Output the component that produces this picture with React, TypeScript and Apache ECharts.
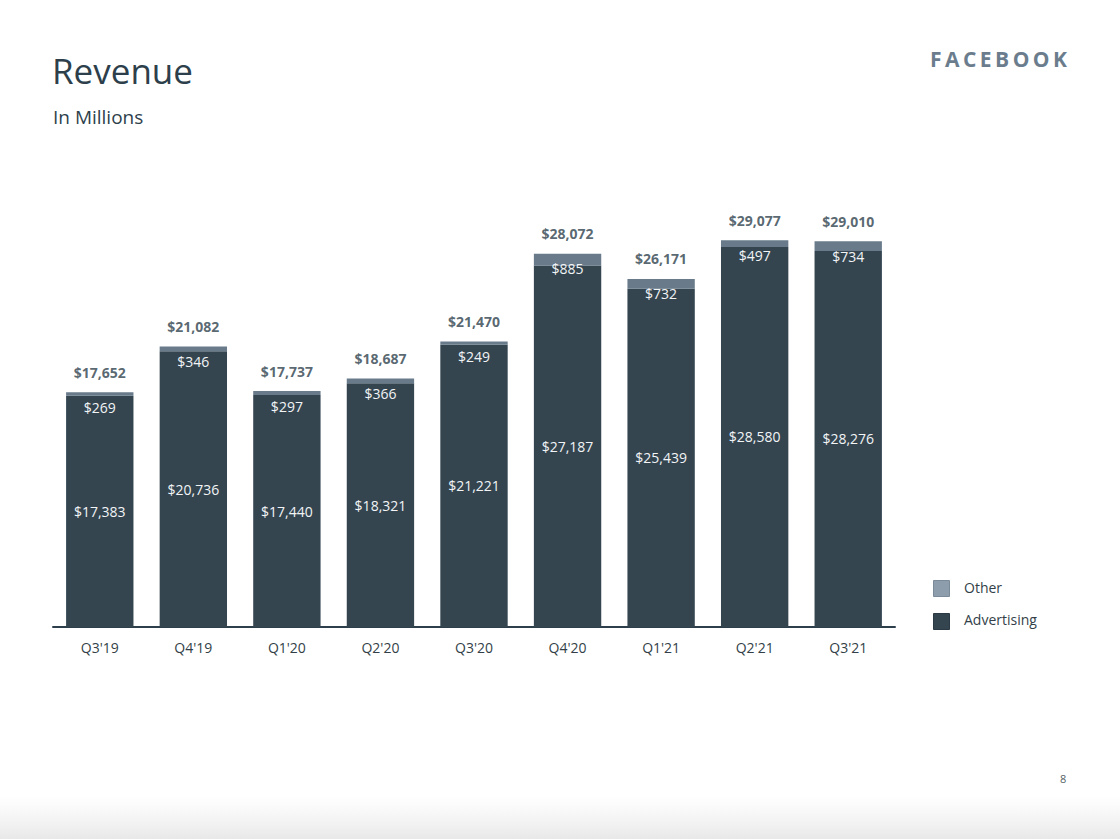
import React, { useEffect, useRef } from "react";
import * as echarts from "echarts";

const categories = ["Q3'19", "Q4'19", "Q1'20", "Q2'20", "Q3'20", "Q4'20", "Q1'21", "Q2'21", "Q3'21"];
const advertising = [17383, 20736, 17440, 18321, 21221, 27187, 25439, 28580, 28276];
const other = [269, 346, 297, 366, 249, 885, 732, 497, 734];
const totals = [17652, 21082, 17737, 18687, 21470, 28072, 26171, 29077, 29010];

const FONT = "'Open Sans', 'Noto Sans', sans-serif";
const DARK = "#344550";
const OTHER = "#697b8b";
const TEXT = "#2e3f4c";

const fmt = (v: number) => "$" + v.toLocaleString("en-US");

export default function App() {
  const ref = useRef<HTMLDivElement>(null);
  useEffect(() => {
    if (!ref.current) return;
    const chart = echarts.init(ref.current, null, { renderer: "svg" });
    chart.setOption({
      animation: false,
      backgroundColor: "#ffffff",
      textStyle: { fontFamily: FONT },
      grid: { left: 53, right: 225, top: 228, height: 399, containLabel: false },
      xAxis: {
        type: "category",
        data: categories,
        axisLine: { lineStyle: { color: TEXT, width: 2 } },
        axisTick: { show: false },
        axisLabel: { color: "#333f48", fontSize: 14, margin: 13, fontFamily: FONT },
      },
      yAxis: {
        type: "value",
        min: 0,
        max: 30000,
        show: false,
        splitLine: { show: false },
      },
      legend: { show: false },
      series: [
        {
          name: "Advertising",
          type: "bar",
          stack: "rev",
          data: advertising,
          barWidth: "72%",
          itemStyle: { color: DARK },
          label: {
            show: true,
            position: "inside",
            color: "#f2f4f6",
            fontSize: 14,
            fontFamily: FONT,
            formatter: (p: any) => fmt(p.value),
          },
        },
        {
          name: "Other",
          type: "bar",
          stack: "rev",
          data: other,
          barWidth: "72%",
          itemStyle: { color: OTHER },
          label: {
            show: true,
            position: "insideTop",
            distance: 8,
            color: "#f2f4f6",
            fontSize: 14,
            fontFamily: FONT,
            formatter: (p: any) => fmt(p.value),
          },
        },
        {
          name: "Total",
          type: "scatter",
          data: totals,
          symbolSize: 0,
          silent: true,
          label: {
            show: true,
            position: "top",
            distance: 13,
            color: TEXT,
            fontSize: 14,
            fontWeight: "bold",
            fontFamily: FONT,
            formatter: (p: any) => fmt(p.value),
          },
        },
      ],
      graphic: [
        {
          type: "text",
          left: 52,
          top: 53,
          style: { text: "Revenue", fontSize: 35, fill: TEXT, fontFamily: FONT },
        },
        {
          type: "text",
          left: 53,
          top: 107,
          style: { text: "In Millions", fontSize: 19, fill: TEXT, fontFamily: FONT },
        },
        {
          type: "text",
          right: 53,
          top: 48,
          style: {
            text: "F\u2009A\u2009C\u2009E\u2009B\u2009O\u2009O\u2009K",
            fontSize: 21,
            fontWeight: "bold",
            fill: "#6b7d8d",
            fontFamily: FONT,
          },
        },
        {
          type: "rect",
          left: 933,
          top: 580,
          shape: { width: 16, height: 16 },
          style: { fill: "#8d9dab", stroke: "#7a8a98", lineWidth: 1 },
        },
        {
          type: "text",
          left: 964,
          top: 580,
          style: { text: "Other", fontSize: 14, fill: "#333f48", fontFamily: FONT },
        },
        {
          type: "rect",
          left: 933,
          top: 613,
          shape: { width: 16, height: 16 },
          style: { fill: DARK, stroke: "#2a3944", lineWidth: 1 },
        },
        {
          type: "text",
          left: 964,
          top: 612,
          style: { text: "Advertising", fontSize: 14, fill: "#333f48", fontFamily: FONT },
        },
        {
          type: "text",
          left: 1060,
          top: 773,
          style: { text: "8", fontSize: 11, fill: "#555f66", fontFamily: FONT },
        },
        {
          type: "rect",
          left: 0,
          top: 795,
          shape: { width: 1120, height: 44 },
          style: {
            fill: new echarts.graphic.LinearGradient(0, 0, 0, 1, [
              { offset: 0, color: "rgba(240,240,240,0)" },
              { offset: 1, color: "rgba(232,232,232,1)" },
            ]),
          },
          silent: true,
        },
      ],
    });
    return () => chart.dispose();
  }, []);
  return (
    <div
      ref={ref}
      style={{ position: "fixed", left: 0, top: 0, width: 1120, height: 839 }}
    />
  );
}
